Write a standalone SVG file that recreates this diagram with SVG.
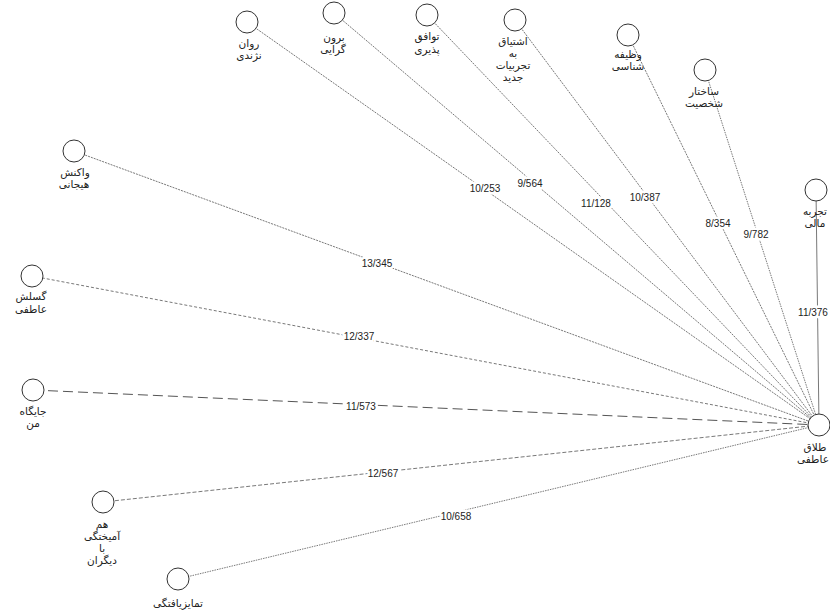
<svg xmlns="http://www.w3.org/2000/svg" width="830" height="612" viewBox="0 0 830 612">
<style>
.bg{fill:#ffffff}
.e{fill:none;stroke:#555555;stroke-width:0.8}
.d1{stroke-dasharray:2 1}
.d2{stroke-dasharray:3 2}
.d3{stroke-dasharray:10 5;stroke-width:1}
.d4{stroke-dasharray:4 2}
.d5{stroke-dasharray:1.5 1}
.n{fill:#ffffff;stroke:#333333;stroke-width:1}
.t{font-family:"DejaVu Sans",sans-serif;font-size:10.5px;fill:#222222;text-anchor:middle}
.w{font-family:"Liberation Sans",Arial,sans-serif;font-size:10px;fill:#222222;text-anchor:middle;stroke:#ffffff;stroke-width:5;paint-order:stroke;stroke-linejoin:round}
</style>
<rect class="bg" x="0" y="0" width="830" height="612"/>
<g id="connectors">
  <line class="e d1" x1="247" y1="22" x2="819" y2="425"/>
  <line class="e d1" x1="334" y1="13" x2="819" y2="425"/>
  <line class="e d1" x1="427" y1="15" x2="819" y2="425"/>
  <line class="e d1" x1="515" y1="20" x2="819" y2="425"/>
  <line class="e d1" x1="628" y1="35" x2="819" y2="425"/>
  <line class="e d5" x1="705" y1="70" x2="819" y2="425"/>
  <line class="e" x1="816" y1="190" x2="819" y2="425"/>
  <line class="e d1" x1="74" y1="151" x2="819" y2="425"/>
  <line class="e d2" x1="32" y1="276" x2="819" y2="425"/>
  <line class="e d3" x1="33" y1="390" x2="819" y2="425"/>
  <line class="e d4" x1="103" y1="502" x2="819" y2="425"/>
  <line class="e d5" x1="178" y1="579" x2="819" y2="425"/>
  <text class="w" x="485" y="192">10/253</text>
  <text class="w" x="530" y="187">9/564</text>
  <text class="w" x="596" y="207">11/128</text>
  <text class="w" x="645" y="201">10/387</text>
  <text class="w" x="718" y="227">8/354</text>
  <text class="w" x="756" y="238">9/782</text>
  <text class="w" x="813" y="316">11/376</text>
  <text class="w" x="377" y="267">13/345</text>
  <text class="w" x="359" y="340">12/337</text>
  <text class="w" x="361" y="410">11/573</text>
  <text class="w" x="383" y="477">12/567</text>
  <text class="w" x="456" y="520">10/658</text>
</g>
<g id="n-ravan">
  <circle class="n" cx="247" cy="22" r="11"/>
  <text class="t" x="249" y="47">روان</text>
  <text class="t" x="249" y="59">نژندی</text>
</g>
<g id="n-borun">
  <circle class="n" cx="334" cy="13" r="11"/>
  <text class="t" x="334" y="41">برون</text>
  <text class="t" x="333" y="53">گرایی</text>
</g>
<g id="n-tavafogh">
  <circle class="n" cx="427" cy="15" r="11"/>
  <text class="t" x="427" y="40">توافق</text>
  <text class="t" x="427" y="53">پذیری</text>
</g>
<g id="n-eshtiagh">
  <circle class="n" cx="515" cy="20" r="11"/>
  <text class="t" x="513" y="45">اشتیاق</text>
  <text class="t" x="513" y="57">به</text>
  <text class="t" x="513" y="69">تجربیات</text>
  <text class="t" x="513" y="81">جدید</text>
</g>
<g id="n-vazifeh">
  <circle class="n" cx="628" cy="35" r="11"/>
  <text class="t" x="628" y="58">وظیفه</text>
  <text class="t" x="628" y="70">شناسی</text>
</g>
<g id="n-sakhtar">
  <circle class="n" cx="705" cy="70" r="11"/>
  <text class="t" x="704" y="95">ساختار</text>
  <text class="t" x="704" y="107">شخصیت</text>
</g>
<g id="n-tajrobeh">
  <circle class="n" cx="816" cy="190" r="11"/>
  <text class="t" x="815" y="215">تجربه</text>
  <text class="t" x="815" y="227">مالی</text>
</g>
<g id="n-vakonesh">
  <circle class="n" cx="74" cy="151" r="11"/>
  <text class="t" x="75" y="176">واکنش</text>
  <text class="t" x="74" y="188">هیجانی</text>
</g>
<g id="n-gosalesh">
  <circle class="n" cx="32" cy="276" r="11"/>
  <text class="t" x="31" y="300">گسلش</text>
  <text class="t" x="31" y="313">عاطفی</text>
</g>
<g id="n-jaygah">
  <circle class="n" cx="33" cy="390" r="11"/>
  <text class="t" x="33" y="415">جایگاه</text>
  <text class="t" x="33" y="427">من</text>
</g>
<g id="n-hamamikhtegi">
  <circle class="n" cx="103" cy="502" r="11"/>
  <text class="t" x="102" y="528">هم</text>
  <text class="t" x="102" y="540">آمیختگی</text>
  <text class="t" x="102" y="552">با</text>
  <text class="t" x="102" y="564">دیگران</text>
</g>
<g id="n-tamayoz">
  <circle class="n" cx="178" cy="579" r="11"/>
  <text class="t" x="178" y="607">تمایزیافتگی</text>
</g>
<g id="n-talagh">
  <circle class="n" cx="819" cy="425" r="11"/>
  <text class="t" x="815" y="451">طلاق</text>
  <text class="t" x="813" y="463">عاطفی</text>
</g>
</svg>
